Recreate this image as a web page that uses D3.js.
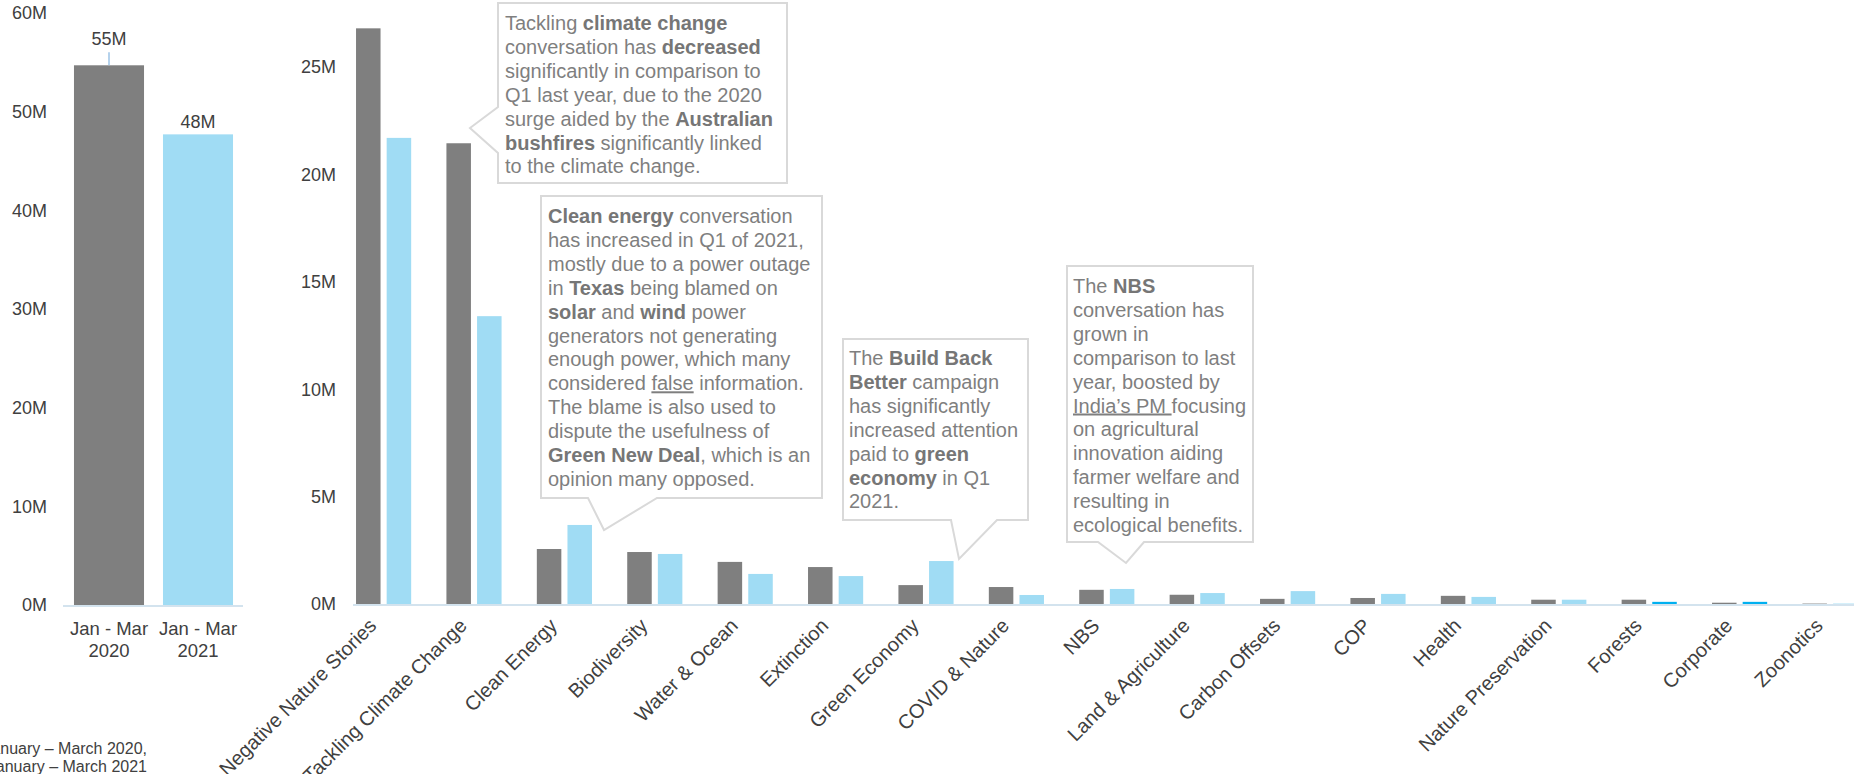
<!DOCTYPE html>
<html><head><meta charset="utf-8">
<script src="https://cdn.jsdelivr.net/npm/d3@7"></script>
<style>
html,body{margin:0;padding:0;background:#fff;overflow:hidden;}
svg{display:block;font-family:"Liberation Sans",Arial,Helvetica,sans-serif;}
</style></head><body>
<svg id="chart" width="1854" height="774"></svg>
<script>
// Total conversation volume per quarter (millions)
const periods = ["Jan - Mar 2020", "Jan - Mar 2021"];
const periodLines = [["Jan - Mar", "2020"], ["Jan - Mar", "2021"]];
const totals = [54.7, 47.7];
const totalTicks = [0, 10, 20, 30, 40, 50, 60];

// Conversation volume by topic (millions)
const topics = ["Negative Nature Stories", "Tackling Climate Change", "Clean Energy", "Biodiversity",
  "Water & Ocean", "Extinction", "Green Economy", "COVID & Nature", "NBS", "Land & Agriculture",
  "Carbon Offsets", "COP", "Health", "Nature Preservation", "Forests", "Corporate", "Zoonotics"];
const values2020 = [26.8, 21.45, 2.56, 2.42, 1.96, 1.72, 0.88, 0.79, 0.66, 0.43, 0.24, 0.28, 0.38, 0.2, 0.2, 0.06, 0.02];
const values2021 = [21.7, 13.4, 3.68, 2.33, 1.40, 1.30, 2.0, 0.42, 0.70, 0.51, 0.60, 0.47, 0.33, 0.2, 0.1, 0.1, 0.02];
const topicTicks = [0, 5, 10, 15, 20, 25];
const years = ["2020", "2021"];
const brightTopics = ["Forests", "Corporate"];

const footnote = ["January – March 2020,", "January – March 2021"];

// Callout texts: each line is a list of [text, style] runs (b = bold, u = underline)
const noteClimate = [
  [["Tackling "], ["climate change", "b"]],
  [["conversation has "], ["decreased", "b"]],
  [["significantly in comparison to"]],
  [["Q1 last year, due to the 2020"]],
  [["surge aided by the "], ["Australian", "b"]],
  [["bushfires", "b"], [" significantly linked"]],
  [["to the climate change."]]
];
const noteEnergy = [
  [["Clean energy", "b"], [" conversation"]],
  [["has increased in Q1 of 2021,"]],
  [["mostly due to a power outage"]],
  [["in "], ["Texas", "b"], [" being blamed on"]],
  [["solar", "b"], [" and "], ["wind", "b"], [" power"]],
  [["generators not generating"]],
  [["enough power, which many"]],
  [["considered "], ["false", "u"], [" information."]],
  [["The blame is also used to"]],
  [["dispute the usefulness of"]],
  [["Green New Deal", "b"], [", which is an"]],
  [["opinion many opposed."]]
];
const noteEconomy = [
  [["The "], ["Build Back", "b"]],
  [["Better", "b"], [" campaign"]],
  [["has significantly"]],
  [["increased attention"]],
  [["paid to "], ["green", "b"]],
  [["economy", "b"], [" in Q1"]],
  [["2021."]]
];
const noteNbs = [
  [["The "], ["NBS", "b"]],
  [["conversation has"]],
  [["grown in"]],
  [["comparison to last"]],
  [["year, boosted by"]],
  [["India’s PM ", "u"], ["focusing"]],
  [["on agricultural"]],
  [["innovation aiding"]],
  [["farmer welfare and"]],
  [["resulting in"]],
  [["ecological benefits."]]
];

const GRAY = "#7f7f7f", LIGHT = "#a0dcf4", BRIGHT = "#00b0f0", AXIS = "#d3e3ee",
      LABEL = "#404040", NOTE = "#7f7f7f", BORDER = "#d9d9d9";

const svg = d3.select("#chart");

// ---------- Totals panel ----------
const yL = d3.scaleLinear().domain([0, 60]).range([605, 13]);
const xL = d3.scaleBand().domain(periods).range([64.5, 242.5]).paddingInner(0.213).paddingOuter(0.1065);
const left = svg.append("g");

left.selectAll("text.tick").data(totalTicks).join("text")
  .attr("x", 47).attr("y", d => yL(d)).attr("dy", "0.35em")
  .attr("text-anchor", "end").attr("font-size", 18).attr("fill", LABEL)
  .text(d => d + "M");

left.selectAll("rect").data(totals).join("rect")
  .attr("x", (d, i) => xL(periods[i])).attr("width", xL.bandwidth())
  .attr("y", d => yL(d)).attr("height", d => yL(0) - yL(d))
  .attr("fill", (d, i) => i === 0 ? GRAY : LIGHT);

left.append("line").attr("x1", 63).attr("x2", 243).attr("y1", yL(0) + 1).attr("y2", yL(0) + 1)
  .attr("stroke", AXIS).attr("stroke-width", 2);

// value labels; the first one is lifted above a short leader line
const lift = [20, 6];
left.selectAll("line.leader").data(totals.slice(0, 1)).join("line")
  .attr("class", "leader")
  .attr("x1", xL(periods[0]) + xL.bandwidth() / 2).attr("x2", xL(periods[0]) + xL.bandwidth() / 2)
  .attr("y1", d => yL(d) - lift[0] + 7).attr("y2", d => yL(d))
  .attr("stroke", "#9dc3e6").attr("stroke-width", 1.5);
left.selectAll("text.val").data(totals).join("text")
  .attr("x", (d, i) => xL(periods[i]) + xL.bandwidth() / 2)
  .attr("y", (d, i) => yL(d) - lift[i])
  .attr("text-anchor", "middle").attr("font-size", 18).attr("fill", LABEL)
  .text(d => Math.round(d) + "M");

periodLines.forEach((lines, i) => {
  const t = left.append("text").attr("text-anchor", "middle").attr("font-size", 18.5).attr("fill", LABEL);
  lines.forEach((s, j) => t.append("tspan")
    .attr("x", xL(periods[i]) + xL.bandwidth() / 2).attr("y", 635 + j * 22).text(s));
});

svg.selectAll("text.foot").data(footnote).join("text")
  .attr("x", 147).attr("y", (d, i) => 754 + i * 18)
  .attr("text-anchor", "end").attr("font-size", 16).attr("fill", LABEL)
  .text(d => d);

// ---------- Topics panel ----------
const yR = d3.scaleLinear().domain([0, 25]).range([604, 67]);
const x0 = d3.scaleBand().domain(topics).range([338.4, 1875.2]).paddingInner(0.39).paddingOuter(0.195);
const x1 = d3.scaleBand().domain(years).range([0, x0.bandwidth()]).paddingInner(0.2);
const right = svg.append("g");

right.selectAll("text.tick").data(topicTicks).join("text")
  .attr("x", 336).attr("y", d => yR(d)).attr("dy", "0.35em")
  .attr("text-anchor", "end").attr("font-size", 18).attr("fill", LABEL)
  .text(d => d + "M");

const rows = topics.map((t, i) => ({ topic: t, v: [values2020[i], values2021[i]] }));
const grp = right.selectAll("g.topic").data(rows).join("g")
  .attr("transform", d => `translate(${x0(d.topic)},0)`);
grp.selectAll("rect").data(d => years.map((y, k) => ({ year: y, value: d.v[k], topic: d.topic }))).join("rect")
  .attr("x", d => x1(d.year)).attr("width", x1.bandwidth())
  .attr("y", d => yR(d.value)).attr("height", d => yR(0) - yR(d.value))
  .attr("fill", d => d.year === "2020" ? GRAY : (brightTopics.includes(d.topic) ? BRIGHT : LIGHT));

right.append("line").attr("x1", 353).attr("x2", 1854).attr("y1", yR(0) + 1).attr("y2", yR(0) + 1)
  .attr("stroke", AXIS).attr("stroke-width", 2);

right.selectAll("text.cat").data(topics).join("text")
  .attr("transform", d => `translate(${x0(d) + x0.bandwidth() / 2 - 6},627) rotate(-45)`)
  .attr("text-anchor", "end").attr("font-size", 20).attr("fill", LABEL)
  .text(d => d);

// ---------- Callouts ----------
function callout(path, x, y0, lines) {
  const g = svg.append("g");
  g.append("path").attr("d", path).attr("fill", "#fff").attr("stroke", BORDER).attr("stroke-width", 2)
    .attr("stroke-linejoin", "miter");
  lines.forEach((runs, i) => {
    const t = g.append("text").attr("x", x).attr("y", y0 + i * 23.9)
      .attr("font-size", 20).attr("fill", NOTE).attr("xml:space", "preserve");
    runs.forEach(([s, st]) => {
      const ts = t.append("tspan").text(s);
      if (st === "b") ts.attr("font-weight", "bold").attr("fill", "#767676");
      if (st === "u") ts.attr("text-decoration", "underline");
    });
  });
}
callout("M498,3H787V183H498V153L470,128L498,107Z", 505, 30, noteClimate);
callout("M541,196H822V498H657L604,530L588,498H541Z", 548, 223, noteEnergy);
callout("M843,339H1028V520H997L959,559L951,520H843Z", 849, 365, noteEconomy);
callout("M1067,266H1253V542H1144L1126,563L1098,542H1067Z", 1073, 293, noteNbs);
</script>
</body></html>
